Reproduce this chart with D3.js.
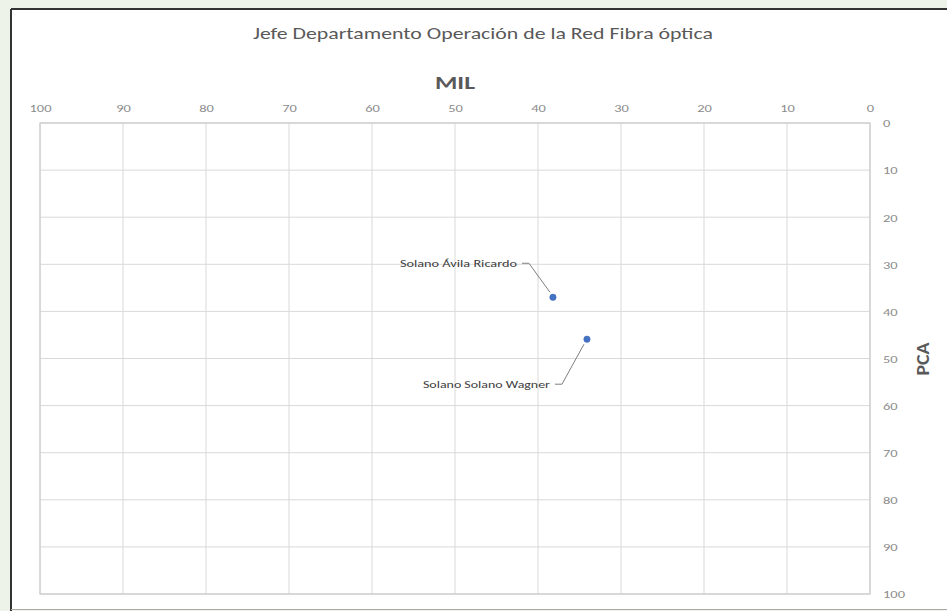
<!DOCTYPE html>
<html><head><meta charset="utf-8">
<script src="https://cdn.jsdelivr.net/npm/d3@7"></script>
<style>html,body{margin:0;padding:0;background:#fff;}svg{display:block;}</style>
</head><body>
<svg id="c" width="947" height="611"></svg>
<script>
const names = ["Solano Ávila Ricardo", "Solano Solano Wagner"];
const milValues = [38.2, 34.1];
const pcaValues = [37.0, 45.9];
const xTicks = [100, 90, 80, 70, 60, 50, 40, 30, 20, 10, 0];
const yTicks = [0, 10, 20, 30, 40, 50, 60, 70, 80, 90, 100];
const title = "Jefe Departamento Operación de la Red Fibra óptica";

const svg = d3.select("#c");
const font = "Calibri, Carlito, Lato, 'Open Sans', 'Liberation Sans', sans-serif";

function stretchTo(sel, w) {
  sel.attr("textLength", w).attr("lengthAdjust", "spacingAndGlyphs");
}
function stretchBy(sel, k) {
  sel.each(function(){
    const w = this.getComputedTextLength();
    d3.select(this).attr("textLength", w*k).attr("lengthAdjust", "spacingAndGlyphs");
  });
}

// background outside chart frame
svg.append("rect").attr("x",0).attr("y",0).attr("width",947).attr("height",611).attr("fill","#eef3ea");
svg.append("rect").attr("x",11).attr("y",9).attr("width",940).attr("height",600).attr("fill","#fff");
svg.append("line").attr("x1",11).attr("x2",947).attr("y1",9).attr("y2",9).attr("stroke","#333").attr("stroke-width",2);
svg.append("line").attr("x1",11).attr("x2",11).attr("y1",9).attr("y2",611).attr("stroke","#333").attr("stroke-width",2);
svg.append("line").attr("x1",11).attr("x2",947).attr("y1",609.5).attr("y2",609.5).attr("stroke","#aaa").attr("stroke-width",1);

const x = d3.scaleLinear().domain([100, 0]).range([40, 870]);
const y = d3.scaleLinear().domain([0, 100]).range([123, 594]);

// gridlines
const g = svg.append("g");
g.selectAll(".vx").data(xTicks).join("line")
  .attr("x1", d => x(d)).attr("x2", d => x(d)).attr("y1", y(0)).attr("y2", y(100))
  .attr("stroke", "#d9d9d9").attr("stroke-width", 1);
g.selectAll(".hy").data(yTicks).join("line")
  .attr("x1", x(100)).attr("x2", x(0)).attr("y1", d => y(d)).attr("y2", d => y(d))
  .attr("stroke", "#d9d9d9").attr("stroke-width", 1);
g.append("rect").attr("x", x(100)).attr("y", y(0)).attr("width", x(0)-x(100)).attr("height", y(100)-y(0))
  .attr("fill","none").attr("stroke","#cccccc").attr("stroke-width",1.2);

// top axis
const xAxis = d3.axisTop(x).tickValues(xTicks).tickSize(0).tickPadding(0);
const xa = svg.append("g").attr("transform", `translate(0,${y(0)-11})`).call(xAxis);
xa.select(".domain").remove();
xa.selectAll("text").attr("fill","#8c8c8c").attr("font-family",font).attr("font-size",11).attr("dy","0");

// right axis
const yAxis = d3.axisRight(y).tickValues(yTicks).tickSize(0).tickPadding(0);
const ya = svg.append("g").attr("transform", `translate(${x(0)+13},0)`).call(yAxis);
ya.select(".domain").remove();
ya.selectAll("text").attr("fill","#8c8c8c").attr("font-family",font).attr("font-size",11).attr("dy","0.35em");

// stretch tick labels so that "100" is ~22px wide
const probe = svg.append("text").attr("font-family",font).attr("font-size",11).text("100");
const kTick = 22 / probe.node().getComputedTextLength();
probe.remove();
stretchBy(xa.selectAll("text"), kTick);
stretchBy(ya.selectAll("text"), kTick);

// titles
const t = svg.append("text").attr("x", 483).attr("y", 39).attr("text-anchor","middle")
  .attr("font-family",font).attr("font-size",16).attr("fill","#595959").text(title);
stretchTo(t, 460);
const m = svg.append("text").attr("x", 455).attr("y", 89).attr("text-anchor","middle")
  .attr("font-family",font).attr("font-size",18).attr("font-weight","bold").attr("fill","#595959").text("MIL");
stretchTo(m, 40);
const pc = svg.append("text").attr("transform","translate(929,359) rotate(-90)").attr("text-anchor","middle")
  .attr("font-family",font).attr("font-size",18).attr("font-weight","bold").attr("fill","#595959").text("PCA");
stretchTo(pc, 33);

// points
const pts = names.map((n,i) => ({name:n, mil:milValues[i], pca:pcaValues[i]}));
const labelOffsets = [{dx:-31, dy:-34}, {dx:-32, dy:45}];
const labelWidths = [117, 127];

pts.forEach((p,i) => {
  const px = x(p.mil), py = y(p.pca);
  const o = labelOffsets[i];
  const lx = px + o.dx, ly = py + o.dy;
  svg.append("path")
    .attr("d", `M${lx},${ly} L${lx+7},${ly} L${px-3},${py + (o.dy<0?-5:5)}`)
    .attr("fill","none").attr("stroke","#7f7f7f").attr("stroke-width",1);
  const lt = svg.append("text").attr("x", lx-5).attr("y", ly).attr("dy","0.35em").attr("text-anchor","end")
    .attr("font-family",font).attr("font-size",11).attr("fill","#404040").text(p.name);
  stretchTo(lt, labelWidths[i]);
});
svg.selectAll(".pt").data(pts).join("circle")
  .attr("cx", d => x(d.mil)).attr("cy", d => y(d.pca)).attr("r", 3.2)
  .attr("fill","#4472c4").attr("stroke","#3a66b5").attr("stroke-width",0.5);
</script>
</body></html>
